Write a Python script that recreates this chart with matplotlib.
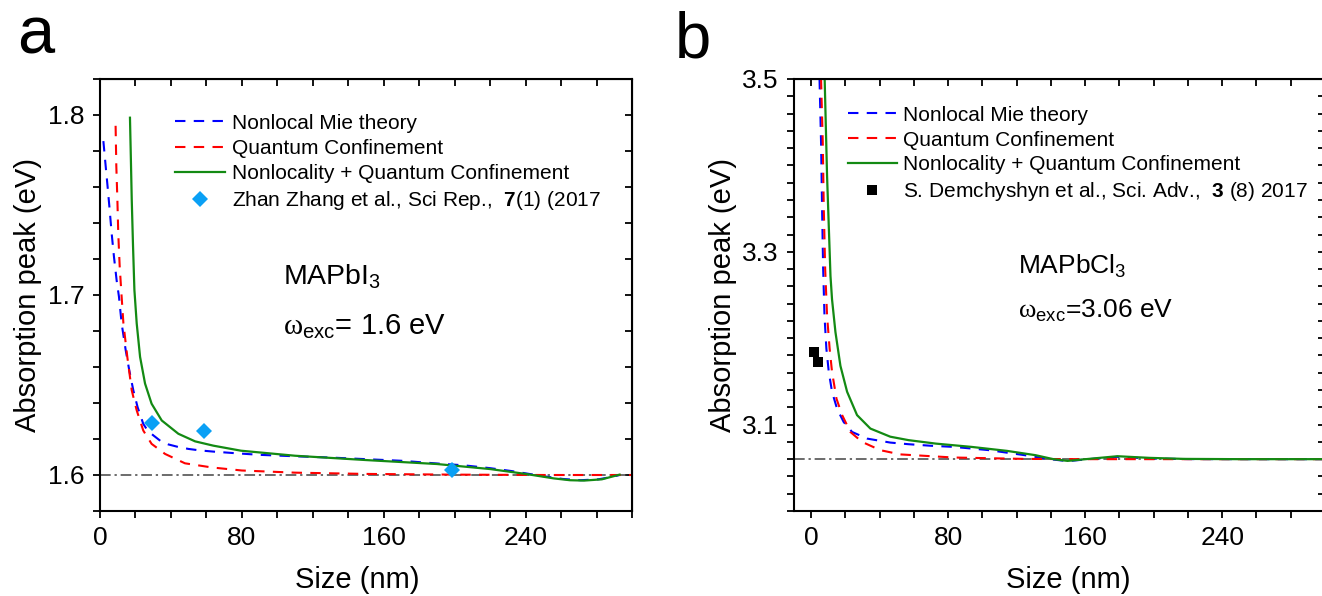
import numpy as np
import matplotlib
matplotlib.use("Agg")
from matplotlib import pyplot as plt
from matplotlib.ticker import MultipleLocator

plt.rcParams['font.family'] = ['Liberation Sans', 'DejaVu Sans']
plt.rcParams['mathtext.fontset'] = 'custom'
plt.rcParams['mathtext.rm'] = 'Liberation Sans'
plt.rcParams['mathtext.bf'] = 'Liberation Sans:bold'
plt.rcParams['mathtext.it'] = 'Liberation Sans:italic'
plt.rcParams['mathtext.sf'] = 'Liberation Serif'

# panel a : MAPbI3
blue_a_x = [1.9, 3.2, 4.3, 5.3, 6.6, 7.9, 9.4, 10.7, 12.2, 14.5, 16.5, 18.8, 21.2, 24.4, 27, 30.1, 34, 38.5,
            44, 49.8, 56, 63.9, 75, 90, 110, 130, 150, 170, 190, 205, 220, 232, 242, 251, 261, 271, 281, 288, 293]
blue_a_y = [1.7855, 1.7716, 1.760, 1.749, 1.734, 1.721, 1.708, 1.699, 1.6842, 1.6693, 1.6582, 1.647, 1.6377,
            1.6284, 1.6245, 1.622, 1.619, 1.617, 1.6156, 1.6145, 1.6137, 1.613, 1.6122, 1.6112, 1.6104, 1.6097,
            1.6088, 1.6079, 1.6064, 1.6054, 1.6038, 1.6022, 1.6006, 1.5992, 1.5978, 1.5971, 1.5976, 1.5988, 1.6]
red_a_x = [8.8, 9.2, 9.8, 10.3, 11.1, 12.2, 13.2, 15.4, 17.9, 20.7, 24.4, 29.1, 36.7, 47.9, 63, 80, 110,
           150, 200, 250, 300]
red_a_y = [1.794, 1.7716, 1.753, 1.734, 1.716, 1.699, 1.6842, 1.6656, 1.647, 1.6359, 1.6247, 1.6173, 1.6117,
           1.6065, 1.6042, 1.6025, 1.6013, 1.6006, 1.6002, 1.6, 1.6]
green_a_x = [16.9, 17.4, 17.9, 18.6, 19.4, 20.7, 22.6, 25.4, 29.1, 34.8, 44.2, 53.6, 63.9, 79.5, 110, 150,
             190, 220, 240, 256, 265, 273, 283, 293]
green_a_y = [1.7985, 1.776, 1.753, 1.728, 1.7028, 1.6842, 1.6656, 1.6508, 1.6396, 1.6303, 1.6229, 1.6187,
             1.6163, 1.6135, 1.6107, 1.6083, 1.6061, 1.6033, 1.6006, 1.5981, 1.5971, 1.5969, 1.5976, 1.6002]
exp_a_x = [29.5, 58.8, 198.7]
exp_a_y = [1.6288, 1.6247, 1.6028]

# panel b : MAPbCl3
blue_b_x = [4.9, 5.8, 6.4, 7.0, 7.8, 8.9, 10.3, 12.2, 15.2, 19.0, 23.9, 32.7, 46.2, 56.9, 70, 83.2, 104,
            124.7, 139.3, 149.7, 162, 178.8, 197.5, 220, 260, 300]
blue_b_y = [3.5, 3.426, 3.349, 3.282, 3.226, 3.188, 3.161, 3.138, 3.118, 3.103, 3.0915, 3.0838, 3.0792,
            3.0773, 3.0755, 3.0742, 3.0704, 3.0646, 3.06, 3.0577, 3.06, 3.0627, 3.0608, 3.0601, 3.06, 3.06]
red_b_x = [5.8, 6.8, 7.4, 8.2, 9.3, 10.8, 12.2, 14.8, 18.1, 22.9, 29.7, 40.4, 52.1, 83.2, 124.7, 160, 220, 300]
red_b_y = [3.5, 3.426, 3.349, 3.28, 3.226, 3.188, 3.161, 3.13, 3.111, 3.0915, 3.08, 3.0704, 3.0655, 3.0619,
           3.0603, 3.06, 3.06, 3.06]
green_b_x = [7.9, 9.3, 10.3, 11.3, 12.2, 14.2, 17.1, 21.0, 26.8, 34.6, 46.2, 56.9, 72.8, 93.6, 114.3, 131,
             141.4, 149.7, 162, 178.8, 197.5, 218, 250, 300]
green_b_y = [3.5, 3.388, 3.33, 3.272, 3.245, 3.207, 3.168, 3.138, 3.111, 3.0954, 3.086, 3.082, 3.078, 3.0742,
             3.0696, 3.0646, 3.06, 3.058, 3.0603, 3.0634, 3.0615, 3.0603, 3.06, 3.06]
exp_b_x = [1.9, 4.1]
exp_b_y = [3.184, 3.172]

c_blue = '#0000ff'
c_red = '#ff0000'
c_green = '#138a13'
dash = (0, (5, 4))
dashdot = (0, (7, 2.5, 1.5, 2.5))

W, H = 1322, 596
fig = plt.figure(figsize=(W / 100, H / 100), dpi=100)
ax1 = fig.add_axes([100 / W, 1 - 511 / H, 532 / W, 432 / H])
ax2 = fig.add_axes([794 / W, 1 - 511 / H, 531 / W, 432 / H])


def style(ax, xlim, ylim, ymaj):
    ax.set_xlim(*xlim)
    ax.set_ylim(*ylim)
    ax.xaxis.set_major_locator(MultipleLocator(80))
    ax.xaxis.set_minor_locator(MultipleLocator(20))
    ax.yaxis.set_major_locator(MultipleLocator(ymaj))
    ax.yaxis.set_minor_locator(MultipleLocator(0.02))
    ax.tick_params(which='both', direction='out', length=5, width=1.3, labelsize=19, pad=6)
    for s in ax.spines.values():
        s.set_linewidth(1.5)
    top = ax.secondary_xaxis('top')
    top.xaxis.set_major_locator(MultipleLocator(20))
    top.tick_params(direction='in', length=5, width=1.3, labeltop=False)
    right = ax.secondary_yaxis('right')
    right.yaxis.set_major_locator(MultipleLocator(0.02))
    right.tick_params(direction='in', length=5, width=1.3, labelright=False)
    ax.set_xlabel('Size (nm)', fontsize=21)
    ax.set_ylabel('Absorption peak (eV)', fontsize=21)


# panel a
ax1.axhline(1.6, color='#444444', lw=1.1, ls=dashdot)
ax1.plot(blue_a_x, blue_a_y, color=c_blue, lw=1.5, ls=dash, label='Nonlocal Mie theory')
ax1.plot(red_a_x, red_a_y, color=c_red, lw=1.5, ls=dash, label='Quantum Confinement')
ax1.plot(green_a_x, green_a_y, color=c_green, lw=1.6, label='Nonlocality + Quantum Confinement')
ax1.plot(exp_a_x, exp_a_y, 'D', color='#0aa0f5', ms=8.5, mew=0,
         label=r'Zhan Zhang et al., Sci Rep.,  $\mathbf{7}$(1) (2017')
style(ax1, (0, 300), (1.58, 1.82), 0.1)
ax1.set_yticks([1.6, 1.7, 1.8])
ax1.yaxis.set_label_coords(-0.109, 0.5)
ax1.xaxis.set_label_coords(0.483, -0.127)
ax1.legend(loc='upper left', bbox_to_anchor=(0.141, 0.92), frameon=False, fontsize=15,
           borderpad=0, borderaxespad=0, handlelength=2.4, handletextpad=0.34,
           labelspacing=0.3, numpoints=1)
ax1.text(103, 1.706, r'MAPbI$_3$', fontsize=20.5)
ax1.text(103, 1.678, r'$\mathsf{\omega}_{\mathrm{exc}}$= 1.6 eV', fontsize=21)

# panel b
ax2.axhline(3.06, color='#444444', lw=1.1, ls=dashdot)
ax2.plot(blue_b_x, blue_b_y, color=c_blue, lw=1.5, ls=dash, label='Nonlocal Mie theory')
ax2.plot(red_b_x, red_b_y, color=c_red, lw=1.5, ls=dash, label='Quantum Confinement')
ax2.plot(green_b_x, green_b_y, color=c_green, lw=1.6, label='Nonlocality + Quantum Confinement')
ax2.plot(exp_b_x, exp_b_y, 's', color='black', ms=6.5, mew=0,
         label=r'S. Demchyshyn et al., Sci. Adv.,  $\mathbf{3}$ (8) 2017')
style(ax2, (-10, 300), (3.0, 3.5), 0.2)
ax2.set_yticks([3.1, 3.3, 3.5])
ax2.yaxis.set_label_coords(-0.107, 0.5)
ax2.xaxis.set_label_coords(0.516, -0.127)
ax2.legend(loc='upper left', bbox_to_anchor=(0.1017, 0.938), frameon=False, fontsize=15,
           borderpad=0, borderaxespad=0, handlelength=2.35, handletextpad=0.3,
           labelspacing=0.28, numpoints=1)
ax2.text(121, 3.275, r'MAPbCl$_3$', fontsize=19)
ax2.text(121, 3.2237, r'$\mathsf{\omega}_{\mathrm{exc}}$=3.06 eV', fontsize=19)

fig.text(17 / W, 1 - 53 / H, 'a', fontsize=48, va='baseline')
fig.text(675 / W, 1 - 57 / H, 'b', fontsize=47, va='baseline')

fig.savefig('out.png', dpi=100)
